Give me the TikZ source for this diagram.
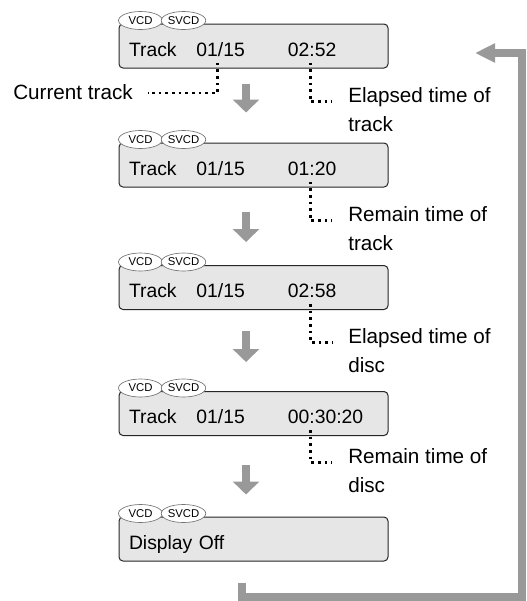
\documentclass[tikz,border=0pt]{standalone}
\usepackage{fontspec}
\setmainfont{Liberation Sans}
\usetikzlibrary{positioning,arrows.meta,shapes.geometric}
\definecolor{lcdfill}{RGB}{230,230,230}
\definecolor{flowgray}{RGB}{153,153,153}

\begin{document}
\begin{tikzpicture}[
    x=0.75pt, y=-0.75pt,
    lcd/.style={
        draw=black!85,
        fill=lcdfill,
        rounded corners=3pt,
        line width=0.75pt,
        minimum width=201.75pt,
        minimum height=33pt,
        inner xsep=7.5pt,
        inner ysep=0pt,
        text width=186.75pt,
        text height=15pt,
        text depth=0pt,
        align=left,
        font=\fontsize{14.5}{17}\selectfont
    },
    tag/.style={
        ellipse,
        draw=black!55,
        fill=white,
        line width=0.5pt,
        minimum width=33pt,
        minimum height=13.5pt,
        inner sep=0pt,
        font=\fontsize{8.5}{9}\selectfont
    },
    lbl/.style={inner sep=0pt, align=left, font=\fontsize{15.5}{21.75}\selectfont},
    dots/.style={line width=2.1pt, dash pattern=on 2.1pt off 2.9pt},
    flow/.style={draw=flowgray, line width=6pt, -{Triangle[width=19.5pt,length=9.75pt]}},
    backloop/.style={draw=flowgray, line width=6pt, line join=miter,
        -{Triangle[width=13.5pt,length=15pt]}}
]
\useasboundingbox (0,0) rectangle (526,601);

% display panels
\node[lcd] (d1) at (253.5,46)
    {\makebox[50.6pt][l]{Track}\makebox[68.6pt][l]{01/15}02:52};
\node[lcd] (d2) at (253.5,165)
    {\makebox[50.6pt][l]{Track}\makebox[68.6pt][l]{01/15}01:20};
\node[lcd] (d3) at (253.5,287.5)
    {\makebox[50.6pt][l]{Track}\makebox[68.6pt][l]{01/15}02:58};
\node[lcd] (d4) at (253.5,413.5)
    {\makebox[50.6pt][l]{Track}\makebox[68.6pt][l]{01/15}00:30:20};
\node[lcd] (d5) at (253.5,539) {Display Off};

% disc type tags
\foreach \d in {d1,d2,d3,d4,d5}{
    \node[tag] (\d v) at ([shift={(16.5pt,2.25pt)}]\d.north west) {VCD};
    \node[tag] (\d s) at ([shift={(48.75pt,2.25pt)}]\d.north west) {SVCD};
}

% labels
\node[lbl, anchor=base east] (cur) at (133,99) {Current track};
\node[lbl, anchor=north west] (el1) at (348,87) {Elapsed time of\\track};
\node[lbl, anchor=north west] (rm1) at (348,206) {Remain time of\\track};
\node[lbl, anchor=north west] (el2) at (348,328) {Elapsed time of\\disc};
\node[lbl, anchor=north west] (rm2) at (348,448) {Remain time of\\disc};

\draw[dots] ([xshift=74.25pt,yshift=4.5pt]d1.south west) |- ([xshift=11pt,yshift=4.5pt]cur.base east);
\draw[dots] ([xshift=144pt,yshift=4.5pt]d1.south west) |- ([xshift=-12pt,yshift=-11pt]el1.north west);
\draw[dots] ([xshift=144pt,yshift=4.5pt]d2.south west) |- ([xshift=-12pt,yshift=-11pt]rm1.north west);
\draw[dots] ([xshift=144pt,yshift=4.5pt]d3.south west) |- ([xshift=-12pt,yshift=-11pt]el2.north west);
\draw[dots] ([xshift=144pt,yshift=4.5pt]d4.south west) |- ([xshift=-12pt,yshift=-11pt]rm2.north west);

% steps
\draw[flow, shorten <=11.25pt, shorten >=22.5pt] ([xshift=-5.6pt]d1.south) -- ([xshift=-5.6pt]d2.north);
\draw[flow, shorten <=18pt, shorten >=17.25pt] ([xshift=-5.6pt]d2.south) -- ([xshift=-5.6pt]d3.north);
\draw[flow, shorten <=15.75pt, shorten >=21.75pt] ([xshift=-5.6pt]d3.south) -- ([xshift=-5.6pt]d4.north);
\draw[flow, shorten <=21.75pt, shorten >=16.5pt] ([xshift=-5.6pt]d4.south) -- ([xshift=-5.6pt]d5.north);

% back to the start
\coordinate (lstart) at ([xshift=-8.6pt,yshift=-15.75pt]d5.south);
\coordinate (lcorner) at (522,597);
\coordinate (lend) at (475,53);
\draw[backloop] (lstart) |- (lcorner) |- (lend);

\end{tikzpicture}
\end{document}
